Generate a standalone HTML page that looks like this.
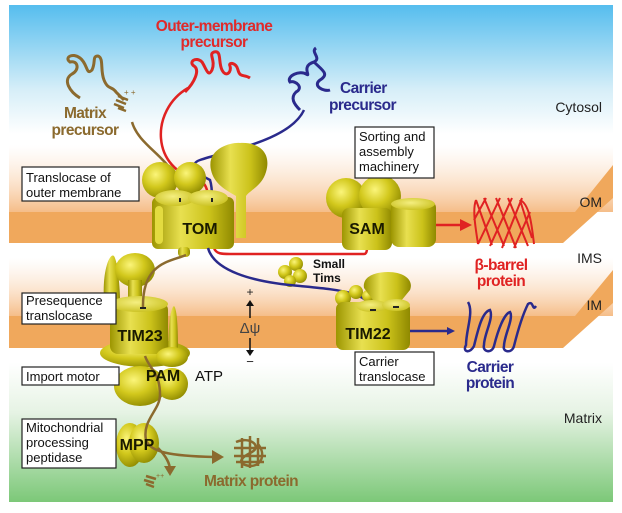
<!DOCTYPE html>
<html><head><meta charset="utf-8"><style>
html,body{margin:0;padding:0;background:#fff}
svg{display:block}
text{font-family:"Liberation Sans",sans-serif}
.lb{font-size:13px;fill:#111}
.big{font-weight:bold;font-size:15.5px;letter-spacing:-0.6px}
.nm{font-weight:bold;font-size:16px;fill:#1a1a00}
</style></head><body>
<svg width="622" height="513" viewBox="0 0 622 513" xmlns="http://www.w3.org/2000/svg">
<defs>
<linearGradient id="bg" x1="0" y1="0" x2="0" y2="1">
<stop offset="0" stop-color="#55bdee"/><stop offset="0.17" stop-color="#d6eef8"/><stop offset="0.26" stop-color="#ffffff"/>
<stop offset="0.72" stop-color="#ffffff"/><stop offset="0.82" stop-color="#e6f3e4"/><stop offset="1" stop-color="#7cc878"/>
</linearGradient>
<linearGradient id="peach" x1="0" y1="0" x2="0" y2="1"><stop offset="0" stop-color="#fbe3cf" stop-opacity="0"/><stop offset="0.5" stop-color="#fad8b8" stop-opacity="0.6"/><stop offset="1" stop-color="#f5bd88"/></linearGradient>
<radialGradient id="ball" cx="0.38" cy="0.35" r="0.7"><stop offset="0" stop-color="#fbf57a"/><stop offset="0.5" stop-color="#d2c81c"/><stop offset="1" stop-color="#8f8a00"/></radialGradient>
<linearGradient id="cyl" x1="0" y1="0" x2="1" y2="0"><stop offset="0" stop-color="#9c9500"/><stop offset="0.35" stop-color="#e8e050"/><stop offset="0.7" stop-color="#cbc21a"/><stop offset="1" stop-color="#8f8900"/></linearGradient>
<radialGradient id="top" cx="0.45" cy="0.4" r="0.7"><stop offset="0" stop-color="#f5ef80"/><stop offset="1" stop-color="#c6bd18"/></radialGradient>
<marker id="ab" markerWidth="8" markerHeight="8" refX="5" refY="4" orient="auto" markerUnits="userSpaceOnUse"><path d="M0,0 L8,4 L0,8 z" fill="#2a2a8c"/></marker>
</defs>
<rect x="9" y="5" width="604" height="497" fill="url(#bg)"/>
<!-- OM -->
<rect x="9" y="145" width="604" height="67" fill="url(#peach)"/>
<path d="M9,212 L575,212 L613,165 L613,198 L563,243 L9,243z" fill="#f0a85c"/>
<!-- IM -->
<rect x="9" y="258" width="604" height="58" fill="url(#peach)"/>
<path d="M9,316 L575,316 L613,270 L613,303 L563,348 L9,348z" fill="#f0a85c"/>

<!-- squiggles -->
<path d="M80,98 C70,92 62,80 72,74 C80,70 78,60 70,62 C64,58 72,52 80,58 C88,64 86,76 92,70 C96,62 92,56 98,56 C104,58 100,70 104,80 C108,90 112,86 116,92 L124,100" fill="none" stroke="#8b6a2e" stroke-width="3"/>
<path d="M118,96 l10,4 M116,100 l10,4 M114,104 l10,4 M118,108 l8,3" stroke="#8b6a2e" stroke-width="2.5"/>
<text x="124" y="95" font-size="8" fill="#8b6a2e">+ +</text>
<path d="M185,92 C195,82 200,70 194,66 C188,62 196,56 202,62 C206,68 208,78 212,70 C216,60 208,54 214,52 C222,50 218,62 222,70 C226,78 232,72 230,66 C228,62 236,62 238,70 C240,78 244,74 250,78" fill="none" stroke="#e02222" stroke-width="3"/>
<path d="M300,110 C294,104 290,98 296,92 C304,88 296,80 290,82 C286,76 300,70 306,74 C312,78 300,66 314,62 C322,58 310,52 316,48 M314,62 C322,70 330,74 320,80 C312,86 324,92 330,90" fill="none" stroke="#2a2a8c" stroke-width="3"/>

<!-- connector lines -->
<path d="M132,122 C140,150 180,160 181,198" fill="none" stroke="#8b6a2e" stroke-width="2.5"/>
<path d="M188,88 C150,110 150,170 200,180 C206,184 208,190 208,198" fill="none" stroke="#e02222" stroke-width="2.5"/>
<path d="M304,110 C290,140 230,150 200,160 C186,165 200,175 210,180 C212,186 212,192 212,198" fill="none" stroke="#2a2a8c" stroke-width="2.5"/>
<path d="M214,248 C216,254 222,254 230,254 L364,254 Q367,254 367,248" fill="none" stroke="#e02222" stroke-width="2.5"/>

<!-- TOM -->
<circle cx="160" cy="180" r="18" fill="url(#ball)"/>
<circle cx="190" cy="178" r="16" fill="url(#ball)"/>
<path d="M211,170 C206,148 232,142 240,143 C258,142 272,152 266,172 C262,186 250,190 246,196 L246,238 L236,238 L236,196 C226,190 214,184 211,170z" fill="url(#cyl)"/>
<rect x="152" y="197" width="82" height="52" rx="6" fill="url(#cyl)"/>
<ellipse cx="175" cy="198" rx="20" ry="8" fill="url(#top)"/>
<ellipse cx="208" cy="198" rx="20" ry="8" fill="url(#top)"/>
<rect x="155" y="206" width="8" height="38" rx="4" fill="#e3db40"/>
<rect x="178" y="247" width="12" height="10" rx="4" fill="url(#cyl)"/>
<path d="M180,202 V198 M212,202 V198" stroke="#222" stroke-width="2"/>
<text x="200" y="234" text-anchor="middle" class="nm">TOM</text>

<!-- SAM -->
<circle cx="346" cy="198" r="20" fill="url(#ball)"/>
<circle cx="380" cy="196" r="21" fill="url(#ball)"/>
<rect x="342" y="208" width="50" height="42" rx="7" fill="url(#cyl)"/>
<rect x="391" y="200" width="45" height="47" rx="8" fill="url(#cyl)"/>
<ellipse cx="413" cy="204" rx="22" ry="6" fill="url(#top)"/>
<text x="367" y="234" text-anchor="middle" class="nm">SAM</text>
<path d="M436,225 H462" stroke="#e02222" stroke-width="2.5"/>
<path d="M460,219 L472,225 L460,231z" fill="#e02222"/>
<!-- beta barrel -->
<path d="M476,200 L492,245 M484,198 L504,246 M496,198 L516,248 M508,198 L528,246 M520,200 L532,238 M474,220 L486,198 M478,244 L500,198 M490,246 L512,198 M502,248 L522,198 M514,248 L530,212 M476,200 C472,210 476,230 478,244 M520,200 C530,204 532,228 534,244" fill="none" stroke="#e02222" stroke-width="2"/>
<text x="501" y="270" text-anchor="middle" class="big" fill="#e02222">β-barrel</text>
<text x="501" y="286" text-anchor="middle" class="big" fill="#e02222">protein</text>

<!-- Small tims -->
<circle cx="285" cy="272" r="7" fill="url(#ball)"/><circle cx="296" cy="264" r="7" fill="url(#ball)"/>
<circle cx="300" cy="276" r="7" fill="url(#ball)"/><circle cx="290" cy="281" r="6" fill="url(#ball)"/>
<text x="313" y="268" font-size="12" font-weight="bold" fill="#111">Small</text>
<text x="313" y="282" font-size="12" font-weight="bold" fill="#111">Tims</text>

<!-- blue line TOM->TIM22 -->
<path d="M208,248 C214,270 250,282 300,286 C340,290 368,292 372,310" fill="none" stroke="#2a2a8c" stroke-width="2.5"/>

<!-- TIM22 -->
<circle cx="343" cy="298" r="8" fill="url(#ball)"/><circle cx="356" cy="292" r="7" fill="url(#ball)"/><circle cx="368" cy="296" r="6" fill="url(#ball)"/>
<path d="M364,288 C362,276 376,272 388,272 C404,272 414,280 410,290 L392,312 L382,312z" fill="url(#cyl)"/>
<rect x="336" y="302" width="74" height="48" rx="7" fill="url(#cyl)"/>
<ellipse cx="372" cy="306" rx="16" ry="6" fill="url(#top)"/><ellipse cx="396" cy="305" rx="14" ry="6" fill="url(#top)"/>
<path d="M370,310 H376 M393,307 H399" stroke="#222" stroke-width="2"/>
<text x="368" y="339" text-anchor="middle" class="nm">TIM22</text>
<path d="M410,331 H452" stroke="#2a2a8c" stroke-width="2.5" marker-end="url(#ab)"/>
<!-- carrier protein -->
<path d="M468,302 C474,312 466,330 466,345 C462,352 470,354 474,346 C478,330 482,312 490,310 C494,318 484,334 484,345 C482,352 492,354 494,346 C498,330 504,314 510,312 C514,318 504,336 504,346 C502,352 512,354 514,346 C518,330 522,316 528,304 C534,300 532,312 536,306" fill="none" stroke="#2a2a8c" stroke-width="2.5"/>
<text x="490" y="372" text-anchor="middle" class="big" fill="#2a2a8c">Carrier</text>
<text x="490" y="388" text-anchor="middle" class="big" fill="#2a2a8c">protein</text>

<!-- TIM23 / PAM / MPP -->
<path d="M104,300 C102,270 110,252 114,256 C118,262 120,290 120,300z" fill="url(#cyl)"/>
<ellipse cx="135" cy="270" rx="20" ry="17" fill="url(#ball)"/>
<rect x="128" y="280" width="14" height="22" fill="url(#cyl)"/>
<ellipse cx="145" cy="353" rx="45" ry="14" fill="url(#ball)"/>
<rect x="110" y="302" width="58" height="52" rx="8" fill="url(#cyl)"/>
<ellipse cx="139" cy="304" rx="29" ry="8" fill="url(#top)"/>
<path d="M168,358 C168,330 170,308 174,306 C178,310 178,340 178,358z" fill="url(#cyl)"/>
<ellipse cx="172" cy="357" rx="16" ry="10" fill="url(#ball)"/>
<ellipse cx="140" cy="386" rx="26" ry="20" fill="url(#ball)"/>
<ellipse cx="172" cy="384" rx="16" ry="16" fill="url(#ball)"/>
<ellipse cx="130" cy="445" rx="14" ry="22" fill="url(#ball)"/>
<ellipse cx="144" cy="443" rx="15" ry="20" fill="url(#ball)"/>
<path d="M186,255 C170,262 142,262 143,308" fill="none" stroke="#8b6a2e" stroke-width="2.5"/>
<path d="M140,308 H146" stroke="#222" stroke-width="2"/>
<path d="M145,356 C150,370 160,372 160,395 C160,410 142,420 146,440 C150,452 170,456 214,457" fill="none" stroke="#8b6a2e" stroke-width="2.5"/>
<path d="M212,450 L224,457 L212,464z" fill="#8b6a2e"/>
<path d="M158,448 C166,456 170,464 170,470" fill="none" stroke="#8b6a2e" stroke-width="2.5"/>
<path d="M164,466 L170,476 L176,466z" fill="#8b6a2e"/>
<path d="M146,476 l10,3 M144,480 l10,3 M146,484 l8,3" stroke="#8b6a2e" stroke-width="2.5"/>
<text x="156" y="478" font-size="7" fill="#8b6a2e">++</text>
<text x="140" y="341" text-anchor="middle" class="nm">TIM23</text>
<text x="163" y="381" text-anchor="middle" class="nm">PAM</text>
<text x="195" y="381" font-size="15" fill="#111">ATP</text>
<text x="137" y="450" text-anchor="middle" class="nm">MPP</text>
<!-- matrix protein glyph -->
<path d="M236,442 C250,436 262,446 252,452 C240,458 236,464 250,466 C262,466 266,454 258,444 M242,438 V468 M250,436 V468 M258,438 V466 M234,448 H266 M234,456 H266 M236,462 H264" fill="none" stroke="#8b6a2e" stroke-width="2.5"/>
<text x="251" y="486" text-anchor="middle" class="big" fill="#8b6a2e">Matrix protein</text>

<!-- delta psi -->
<text x="250" y="296" text-anchor="middle" font-size="12" fill="#222">+</text>
<path d="M250,318 V304" stroke="#111" stroke-width="1.5"/><path d="M246,306 L250,300 L254,306z" fill="#111"/>
<text x="250" y="333" text-anchor="middle" font-size="15" fill="#444">Δψ</text>
<path d="M250,338 V352" stroke="#111" stroke-width="1.5"/><path d="M246,350 L250,356 L254,350z" fill="#111"/>
<text x="250" y="366" text-anchor="middle" font-size="13" fill="#222">−</text>

<!-- colored titles -->
<text x="214" y="31" text-anchor="middle" class="big" fill="#e02a2a">Outer-membrane</text>
<text x="214" y="47" text-anchor="middle" class="big" fill="#e02a2a">precursor</text>
<text x="85" y="118" text-anchor="middle" class="big" fill="#8b6a2e">Matrix</text>
<text x="85" y="135" text-anchor="middle" class="big" fill="#8b6a2e">precursor</text>
<text x="340" y="93" class="big" fill="#2a2a8c">Carrier</text>
<text x="329" y="110" class="big" fill="#2a2a8c">precursor</text>

<!-- region labels -->
<text x="602" y="112" text-anchor="end" font-size="14" fill="#222">Cytosol</text>
<text x="602" y="207" text-anchor="end" font-size="14" fill="#222">OM</text>
<text x="602" y="263" text-anchor="end" font-size="14" fill="#222">IMS</text>
<text x="602" y="310" text-anchor="end" font-size="14" fill="#222">IM</text>
<text x="602" y="423" text-anchor="end" font-size="14" fill="#222">Matrix</text>

<!-- boxes -->
<g fill="#fff" stroke="#222" stroke-width="1.2">
<rect x="22" y="167" width="117" height="34"/>
<rect x="355" y="127" width="79" height="51"/>
<rect x="22" y="293" width="94" height="31"/>
<rect x="355" y="352" width="79" height="33"/>
<rect x="22" y="367" width="97" height="18"/>
<rect x="22" y="419" width="94" height="49"/>
</g>
<g class="lb">
<text x="26" y="182" class="lb">Translocase of</text><text x="26" y="197" class="lb">outer membrane</text>
<text x="359" y="141" class="lb">Sorting and</text><text x="359" y="156" class="lb">assembly</text><text x="359" y="171" class="lb">machinery</text>
<text x="26" y="305" class="lb">Presequence</text><text x="26" y="320" class="lb">translocase</text>
<text x="359" y="366" class="lb">Carrier</text><text x="359" y="381" class="lb">translocase</text>
<text x="26" y="381" class="lb">Import motor</text>
<text x="26" y="432" class="lb">Mitochondrial</text><text x="26" y="447" class="lb">processing</text><text x="26" y="462" class="lb">peptidase</text>
</g>
</svg>
</body></html>
